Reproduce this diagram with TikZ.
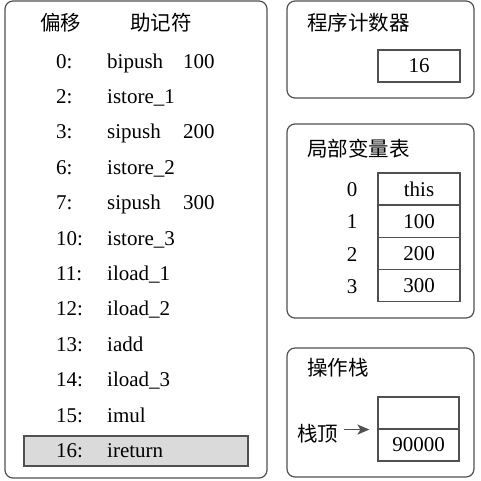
\documentclass[tikz,border=0pt]{standalone}
\usepackage{fontspec}
\setmainfont{Liberation Serif}
\newfontfamily\cjk{Noto Sans CJK SC}
\usetikzlibrary{arrows.meta}
\definecolor{edge}{RGB}{80,80,80}
\definecolor{hl}{RGB}{218,218,218}
\begin{document}
\begin{tikzpicture}[x=1pt,y=-1pt,
  panel/.style={draw=edge,line width=1.2pt,rounded corners=8pt},
  cell/.style={draw=edge,line width=1.1pt,minimum width=82pt,minimum height=32pt,inner sep=0pt,font=\fontsize{21}{25}\selectfont},
  txt/.style={inner sep=0pt,anchor=base west,font=\fontsize{21}{25}\selectfont},
  ctxt/.style={inner sep=0pt,anchor=base,font=\fontsize{21}{25}\selectfont},
  ch/.style={inner sep=0pt,anchor=base west,font=\fontsize{20.5}{25}\selectfont\cjk},
  arr/.style={-{Stealth[length=12pt,width=10pt,inset=3pt]},draw=edge,fill=edge,line width=1.6pt}]
\useasboundingbox (0,0) rectangle (481,480);
% panels
\draw[panel] (5,1) rectangle (267,478);
\draw[panel] (287,1) rectangle (474,98);
\draw[panel] (287,124) rectangle (474,318);
\draw[panel] (287,348) rectangle (474,477);
% highlight
\draw[draw=edge,line width=1.1pt,fill=hl] (24,436) rectangle (248,466);
% left headers
\node[ch] (h1) at (40,30.5) {偏移};
\node[ch] (h2) at (130,30.5) {助记符};
% rows
\foreach \i/\o/\m/\a in {0/0:/bipush/100,1/2:/istore\_1/,2/3:/sipush/200,3/6:/istore\_2/,4/7:/sipush/300,5/10:/istore\_3/,6/11:/iload\_1/,7/12:/iload\_2/,8/13:/iadd/,9/14:/iload\_3/,10/15:/imul/,11/16:/ireturn/}{
  \node[txt] (o\i) at (56,68+35.4*\i) {\o};
  \node[txt] (m\i) at (107,68+35.4*\i) {\m};
  \node[txt] (a\i) at (183,68+35.4*\i) {\a};
}
% program counter
\node[ch] (pct) at (307,30) {程序计数器};
\node[cell] (pc) at (419,66) {16};
% local variables
\node[ch] (lvt) at (307,156) {局部变量表};
\foreach \i/\v in {0/this,1/100,2/200,3/300}{
  \node[cell] (lv\i) at (419,189+32.3*\i) {\v};
  \node[ctxt] (li\i) at (352,196.5+32.3*\i) {\i};
}
% operand stack
\node[ch] (ost) at (307,375) {操作栈};
\node[cell,minimum width=81pt] (s1) at (418.5,413) {};
\node[cell,minimum width=81pt] (s0) at (418.5,445) {90000};
\node[ch] (zd) at (297,441) {栈顶};
\draw[arr,shorten <=6pt,shorten >=8pt] (zd.east |- s1.south west) -- (s1.south west);
\end{tikzpicture}
\end{document}
